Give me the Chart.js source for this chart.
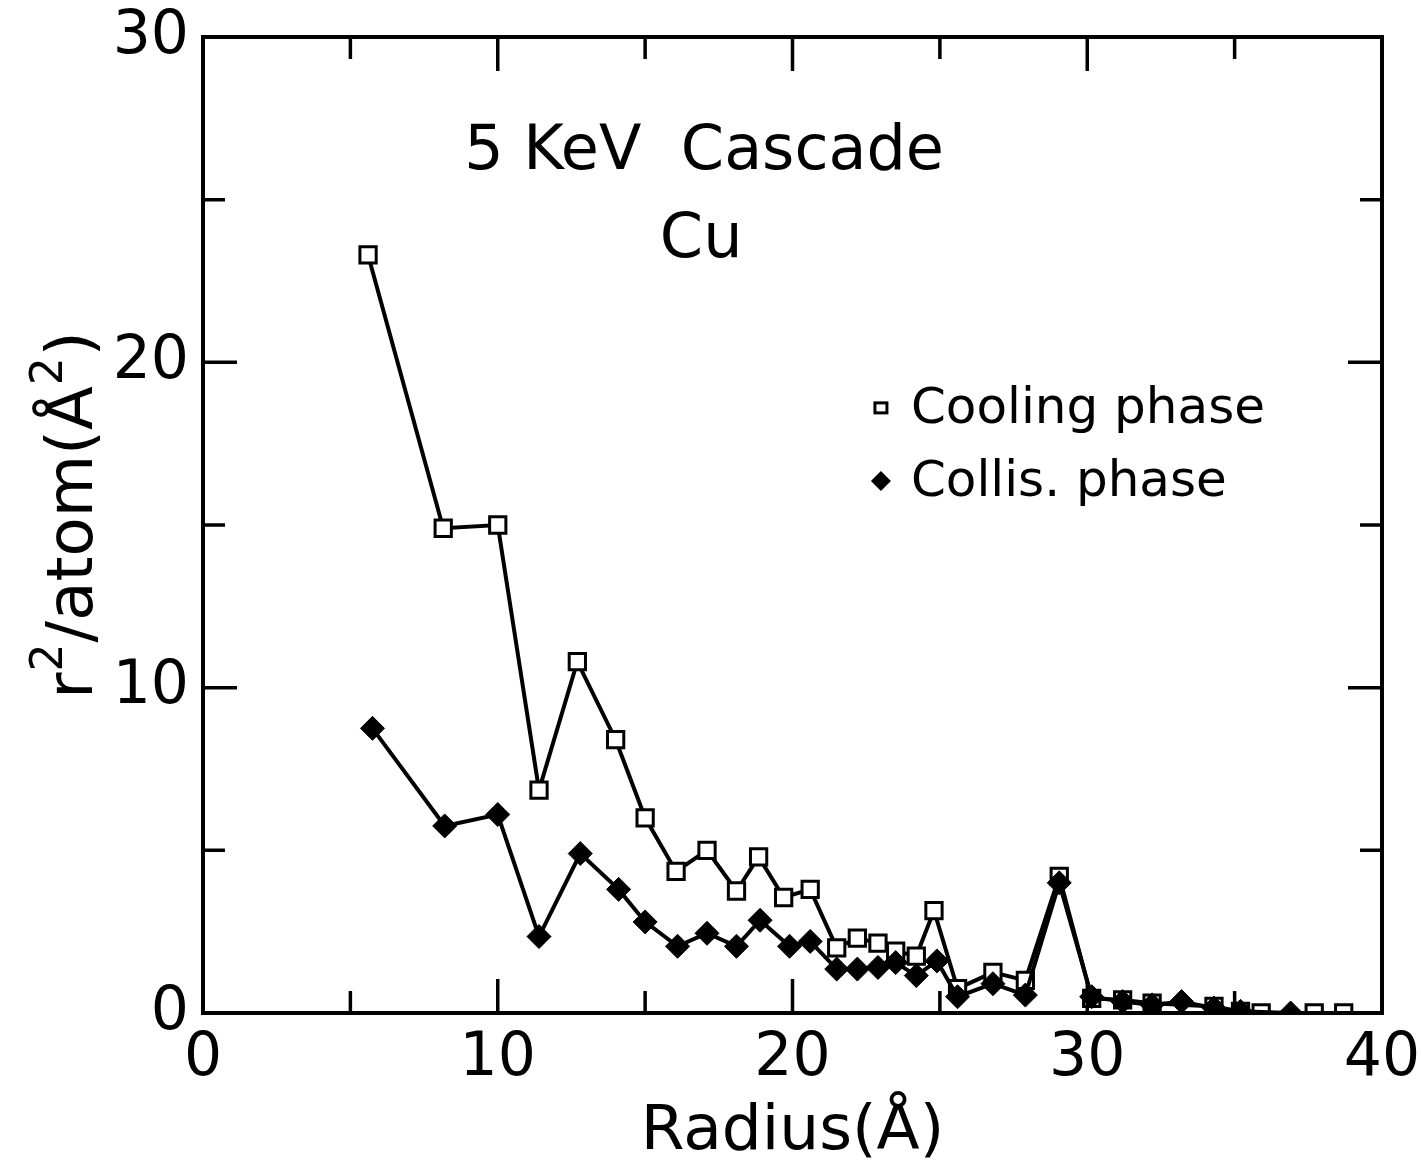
<!DOCTYPE html>
<html>
<head>
<meta charset="utf-8">
<script src="https://cdn.jsdelivr.net/npm/chart.js@4.4.1/dist/chart.umd.min.js"></script>
<style>
html,body{margin:0;padding:0;background:#fff;}
#wrap{width:1421px;height:1172px;}
</style>
</head>
<body>
<div id="wrap"><canvas id="c" width="1421" height="1172"></canvas></div>
<script>
// Cooling phase (open squares)
const coolX = [5.6, 8.15, 10.0, 11.4, 12.7, 14.0, 15.0, 16.05, 17.1, 18.1, 18.85, 19.7, 20.6, 21.5, 22.2, 22.9, 23.5, 24.2, 24.8, 25.6, 26.8, 27.9, 29.05, 30.15, 31.2, 32.2, 34.3, 35.2, 35.9, 37.7, 38.7];
const coolY = [23.3, 14.9, 15.0, 6.85, 10.8, 8.4, 6.0, 4.35, 5.0, 3.75, 4.8, 3.55, 3.8, 2.0, 2.3, 2.15, 1.9, 1.75, 3.15, 0.75, 1.25, 1.0, 4.2, 0.45, 0.4, 0.3, 0.2, 0.05, 0.0, 0.0, 0.0];
// Collision phase (filled diamonds)
const collX = [5.75, 8.2, 10.0, 11.4, 12.8, 14.1, 15.0, 16.1, 17.1, 18.1, 18.9, 19.9, 20.6, 21.5, 22.2, 22.9, 23.5, 24.2, 24.9, 25.6, 26.8, 27.9, 29.05, 30.15, 31.2, 32.2, 33.2, 34.3, 35.2, 36.9];
const collY = [8.75, 5.75, 6.1, 2.35, 4.9, 3.8, 2.8, 2.05, 2.45, 2.05, 2.85, 2.05, 2.2, 1.35, 1.35, 1.4, 1.55, 1.15, 1.6, 0.5, 0.9, 0.55, 4.0, 0.5, 0.35, 0.25, 0.35, 0.15, 0.05, 0.0];

const xTicks = [0, 10, 20, 30, 40];
const yTicks = [0, 10, 20, 30];
const minorStep = 5;
const seriesNames = ["Cooling phase", "Collis. phase"];
const annotLines = ["5 KeV  Cascade", "Cu"];
const xTitle = "Radius(Å)";
// y title pieces: [text, superscript?]
const yTitleParts = [["r", false], ["2", true], ["/atom(", false], ["Å", false], ["2", true], [")", false]];

const FONT = "'DejaVu Sans', sans-serif";

const coolData = coolX.map((x, i) => ({x, y: coolY[i]}));
const collData = collX.map((x, i) => ({x, y: collY[i]}));

const decor = {
  id: 'decor',
  afterDatasetsDraw(chart) {
    const {ctx, chartArea: a, scales: {x, y}} = chart;
    ctx.save();
    ctx.strokeStyle = '#000';
    ctx.lineWidth = 4;
    ctx.strokeRect(a.left, a.top, a.right - a.left, a.bottom - a.top);
    ctx.lineWidth = 3.5;
    for (let v = x.min; v <= x.max; v += minorStep) {
      const px = x.getPixelForValue(v);
      const len = (v % 10 === 0) ? 34 : 22;
      ctx.beginPath();
      ctx.moveTo(px, a.bottom); ctx.lineTo(px, a.bottom - len);
      ctx.moveTo(px, a.top); ctx.lineTo(px, a.top + len);
      ctx.stroke();
    }
    for (let v = y.min; v <= y.max; v += minorStep) {
      const py = y.getPixelForValue(v);
      const len = (v % 10 === 0) ? 34 : 22;
      ctx.beginPath();
      ctx.moveTo(a.left, py); ctx.lineTo(a.left + len, py);
      ctx.moveTo(a.right, py); ctx.lineTo(a.right - len, py);
      ctx.stroke();
    }
    // annotation text
    ctx.fillStyle = '#000';
    ctx.textAlign = 'center';
    ctx.textBaseline = 'alphabetic';
    ctx.font = '62px ' + FONT;
    ctx.fillText(annotLines[0], x.getPixelForValue(17.0), y.getPixelForValue(25.95));
    ctx.fillText(annotLines[1], x.getPixelForValue(16.9), y.getPixelForValue(23.25));
    // legend
    ctx.textAlign = 'left';
    ctx.textBaseline = 'middle';
    ctx.font = '50px ' + FONT;
    const lx = x.getPixelForValue(23.0);
    const ly1 = y.getPixelForValue(18.6);
    const ly2 = y.getPixelForValue(16.35);
    ctx.lineWidth = 3;
    ctx.fillStyle = '#fff';
    ctx.fillRect(lx - 6, ly1 - 5, 12, 10);
    ctx.strokeRect(lx - 6, ly1 - 5, 12, 10);
    ctx.fillStyle = '#000';
    ctx.beginPath();
    ctx.moveTo(lx, ly2 - 10); ctx.lineTo(lx + 10, ly2); ctx.lineTo(lx, ly2 + 10); ctx.lineTo(lx - 10, ly2);
    ctx.closePath(); ctx.fill();
    ctx.fillText(seriesNames[0], lx + 30, ly1 + 2);
    ctx.fillText(seriesNames[1], lx + 30, ly2 + 2);
    // y axis title (rotated, with raised superscripts)
    const big = '64px ' + FONT, small = '44px ' + FONT;
    let total = 0;
    yTitleParts.forEach(([t, sup]) => { ctx.font = sup ? small : big; total += ctx.measureText(t).width + (sup ? 2 : 0); });
    ctx.translate(92, (a.top + a.bottom) / 2 - 10);
    ctx.rotate(-Math.PI / 2);
    ctx.textBaseline = 'alphabetic';
    ctx.textAlign = 'left';
    let cx = -total / 2;
    yTitleParts.forEach(([t, sup]) => {
      ctx.font = sup ? small : big;
      ctx.fillText(t, cx + (sup ? 1 : 0), sup ? -30 : 0);
      cx += ctx.measureText(t).width + (sup ? 2 : 0);
    });
    ctx.restore();
  }
};

new Chart(document.getElementById('c'), {
  type: 'scatter',
  data: {
    datasets: [
      {
        label: seriesNames[1], data: collData, showLine: true, order: 0,
        borderColor: '#000', borderWidth: 4, backgroundColor: '#000',
        pointStyle: 'rectRot', pointRadius: 12, pointBorderWidth: 1,
        pointBackgroundColor: '#000', pointBorderColor: '#000'
      },
      {
        label: seriesNames[0], data: coolData, showLine: true, order: 1,
        borderColor: '#000', borderWidth: 4, backgroundColor: '#fff',
        pointStyle: 'rect', pointRadius: 11.5, pointBorderWidth: 3,
        pointBackgroundColor: '#fff', pointBorderColor: '#000'
      }
    ]
  },
  options: {
    responsive: false,
    animation: false,
    layout: {padding: {top: 37, right: 39, left: 0, bottom: 0}},
    plugins: {legend: {display: false}, tooltip: {enabled: false}},
    scales: {
      x: {
        type: 'linear', min: 0, max: 40,
        afterFit(s) { s.height = 159; s.paddingLeft = 0; s.paddingRight = 0; },
        afterBuildTicks(s) { s.ticks = xTicks.map(v => ({value: v})); },
        grid: {display: false, drawTicks: false},
        border: {display: false},
        ticks: {color: '#000', font: {family: FONT, size: 60}, padding: 10, maxRotation: 0},
        title: {display: true, text: xTitle, color: '#000', font: {family: FONT, size: 63}, padding: {top: 0, bottom: 2}}
      },
      y: {
        type: 'linear', min: 0, max: 30,
        afterFit(s) { s.width = 203; s.paddingTop = 0; s.paddingBottom = 0; },
        afterBuildTicks(s) { s.ticks = yTicks.map(v => ({value: v})); },
        grid: {display: false, drawTicks: false},
        border: {display: false},
        ticks: {color: '#000', font: {family: FONT, size: 60}, padding: 14},
        title: {display: false}
      }
    }
  },
  plugins: [decor]
});
</script>
</body>
</html>
